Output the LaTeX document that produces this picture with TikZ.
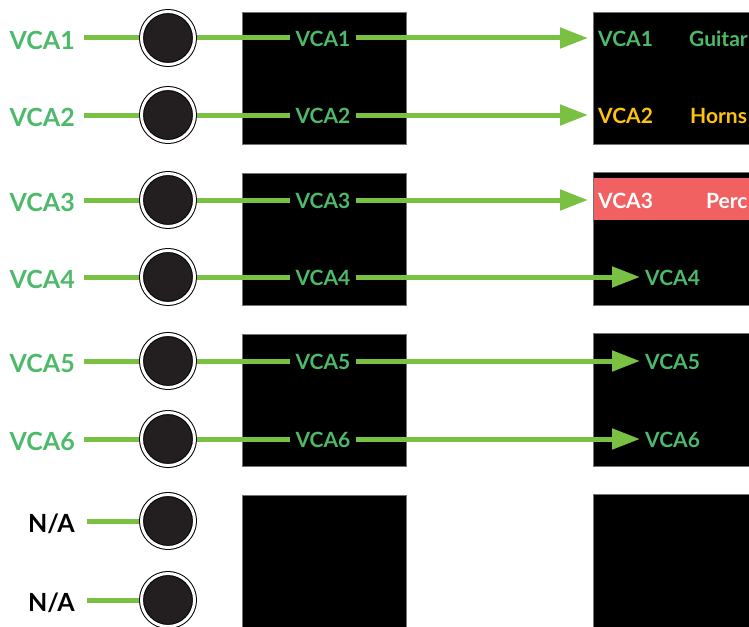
\documentclass[tikz,border=0pt]{standalone}
\usepackage{fontspec}
\setmainfont{Lato}
\usetikzlibrary{arrows.meta, positioning, calc}
\definecolor{vcagreen}{HTML}{4DB96A}
\definecolor{wiregreen}{HTML}{7AC143}
\definecolor{vcayellow}{HTML}{FFC20E}
\definecolor{vcared}{HTML}{F26161}
\definecolor{jackdark}{HTML}{231F20}

\begin{document}
\begin{tikzpicture}[
  x=1pt, y=-1pt,
  inlbl/.style={anchor=east, inner xsep=9pt, inner ysep=0pt, text=vcagreen,
                text height=22pt, text depth=0pt,
                font=\fontsize{25}{29}\selectfont\bfseries},
  jack/.style={circle, draw=black, line width=1pt, double=white,
               double distance=3pt, fill=jackdark, minimum size=53pt,
               inner sep=0pt, outer sep=2.5pt},
  midlbl/.style={inner xsep=5pt, inner ysep=0pt, text=vcagreen,
                 text height=17pt, text depth=0pt,
                 font=\fontsize{21}{25}\selectfont\bfseries},
  outlbl/.style={anchor=west, inner xsep=#1, inner ysep=0pt, text=vcagreen,
                 text height=17pt, text depth=0pt,
                 font=\fontsize{21}{25}\selectfont\bfseries},
  outlbl/.default=0pt,
  wire/.style={draw=wiregreen, line width=5pt},
  arr/.style={wire, -{Triangle[length=28pt, width=20pt]}},
  block/.style={fill=black, draw=black!55, line width=0.7pt},
]
\useasboundingbox (0,0) rectangle (749,626);
\clip (0,0) rectangle (749,626);
% console blocks
\foreach \t/\b in {12/144,173/305,334/466,495/640}
  \path [block] (242,\t) rectangle (406,\b);
\foreach \t/\b in {12/144,172/305,333/466,494/640}
  \path [block] (593,\t) rectangle (760,\b);
\fill [vcared] (594,178) rectangle (760,220);
% outputs on the right
\node (out1)  [outlbl=10pt] at (588,38)  {VCA1};
\node (name1) [outlbl] at (689,38)  {Guitar};
\node (out2)  [outlbl=10pt, text=vcayellow] at (588,115) {VCA2};
\node (name2) [outlbl, text=vcayellow] at (690,115) {Horns};
\node (out3)  [outlbl=10pt, text=white] at (588,200) {VCA3};
\node (name3) [outlbl, text=white] at (706,200) {Perc};
\node (out4)  [outlbl=5pt] at (640,277) {VCA4};
\node (out5)  [outlbl=5pt] at (640,361) {VCA5};
\node (out6)  [outlbl=5pt] at (640,439) {VCA6};
% inputs, jacks and wires
\foreach \i/\y in {1/38,2/115,3/200,4/277,5/361,6/439} {
  \node (in\i)   [inlbl] at (84,\y) {VCA\i};
  \node (jack\i) [jack]  at (168,\y) {};
  \node (mid\i)  [midlbl] at (323,\y) {VCA\i};
  \draw [wire] (in\i) -- (jack\i);
  \draw [wire] (jack\i) -- (mid\i);
  \draw [arr]  (mid\i) -- (out\i);
}
% unused channels
\foreach \i/\y in {7/521,8/600} {
  \node (in\i)   [inlbl, text=black, inner xsep=12pt] at (87,\y) {N/A};
  \node (jack\i) [jack] at (168,\y) {};
  \draw [wire] (in\i) -- (jack\i);
}
\end{tikzpicture}
\end{document}
